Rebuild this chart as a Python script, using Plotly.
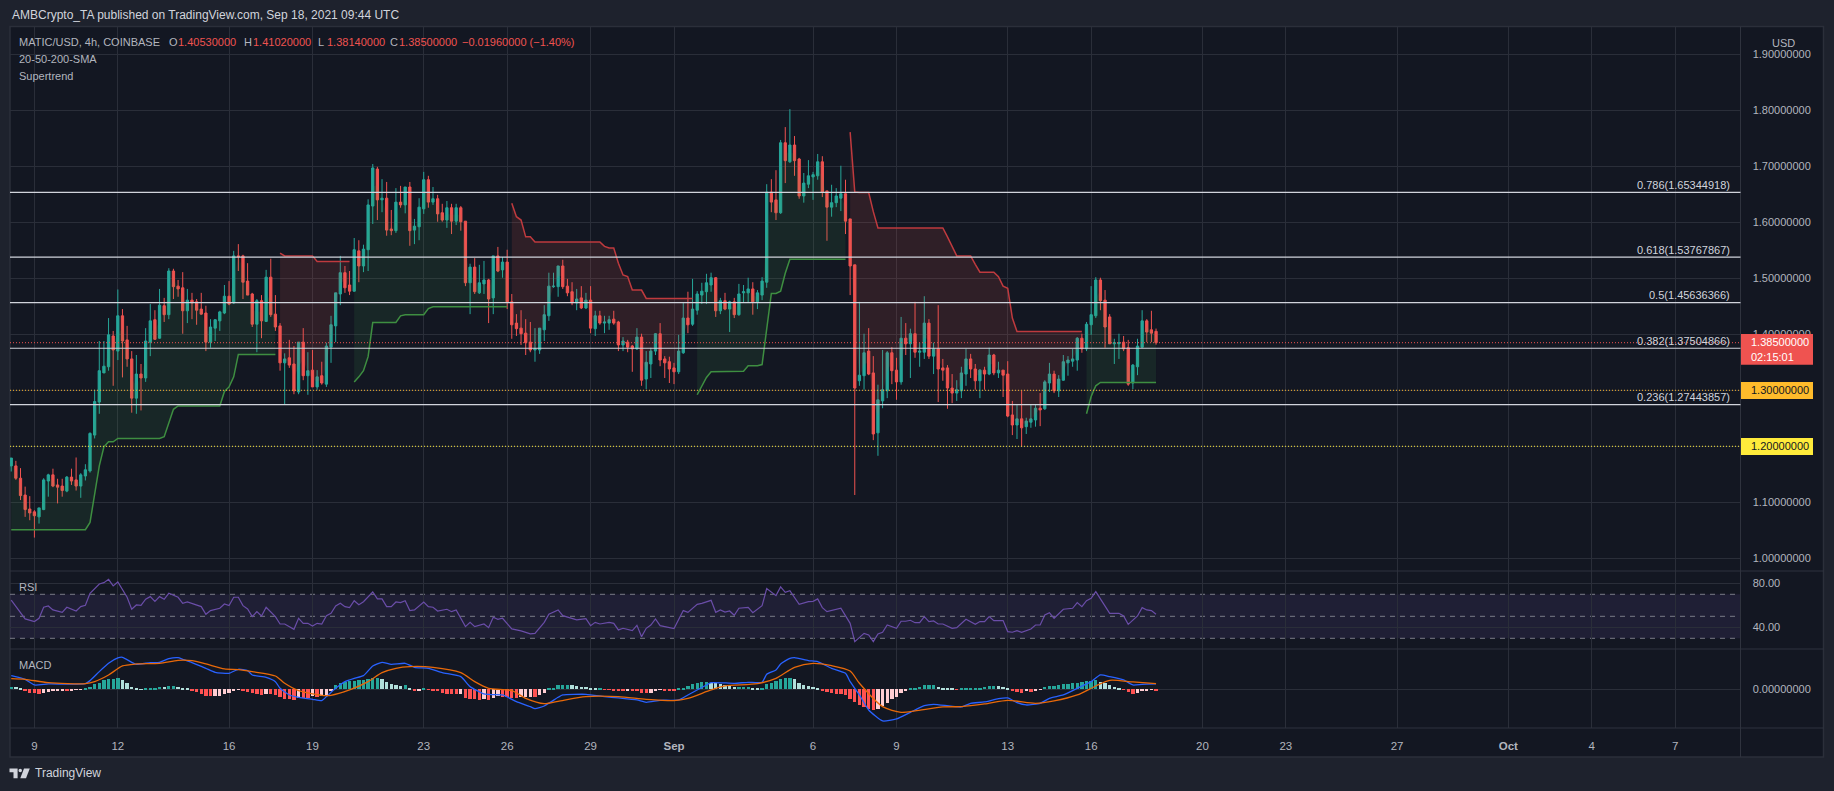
import pandas as pd
import plotly.graph_objects as go

W, H = 1834, 791

first_candle = "2021-08-08 04:00"
opens = [1.165,1.165,1.143,1.113,1.088,1.083,1.074,1.087,1.138,1.149,1.131,1.129,1.120,1.145,1.140,1.129,1.147,1.156,1.220,1.279,1.331,1.342,1.397,1.370,
1.433,1.390,1.356,1.286,1.329,1.322,1.386,1.426,1.393,1.451,1.435,1.513,1.486,1.483,1.442,1.461,1.458,1.445,1.438,1.386,1.411,1.424,1.438,1.468,
1.456,1.540,
1.540,1.495,1.472,1.418,1.460,1.423,1.502,1.436,1.415,1.349,1.358,1.347,1.297,1.386,1.326,1.336,1.306,1.326,1.311,1.377,1.415,1.472,1.510,1.488,1.477,1.549,1.522,1.551,1.629,1.695,1.640,1.643,1.588,1.585,1.636,1.631,1.663,1.586,1.592,1.624,
1.676,1.636,1.642,1.617,1.604,1.626,1.602,1.626,1.602,1.492,1.520,1.474,
1.490,1.497,1.465,1.540,1.515,1.529,
1.458,1.420,1.411,1.402,1.386,1.372,1.372,1.408,1.433,1.485,1.485,1.522,1.486,1.476,1.456,1.465,1.447,1.461,
1.410,1.433,1.420,1.420,1.427,1.422,1.381,1.386,1.379,1.374,1.395,1.320,1.347,1.370,1.401,1.356,1.351,1.340,
1.333,1.367,1.429,1.418,1.443,1.470,1.476,
1.488,1.501,1.442,1.460,1.445,1.458,1.435,1.474,1.474,1.481,1.458,1.470,1.493,1.654,1.640,1.617,1.742,1.708,1.738,1.713,1.647,1.668,1.681,1.683,1.708,1.656,1.627,1.635,1.643,1.651,1.606,1.524,1.317,1.326,1.370,1.331,1.224,1.281,1.299,1.367,1.336,
1.315,1.393,1.383,1.401,1.368,1.368,1.420,1.361,1.374,
1.340,1.340,1.304,1.295,1.299,1.329,1.356,1.338,1.317,1.336,1.329,1.363,1.331,1.336,1.329,
1.256,1.238,1.249,1.235,1.243,1.247,1.268,1.267,1.313,1.329,1.299,1.318,1.349,1.352,1.354,1.393,1.374,1.417,1.433,1.497,1.461,1.431,1.383,1.383,1.386,1.376,1.313,1.342,1.377,1.424,1.408,1.4053]
highs = [1.179,1.174,1.161,1.128,1.111,1.086,1.090,1.143,1.151,1.160,1.142,1.142,1.147,1.160,1.180,1.152,1.168,1.225,1.301,1.388,1.388,1.429,1.406,1.480,
1.445,1.415,1.370,1.363,1.347,1.411,1.454,1.443,1.481,1.465,1.518,1.517,1.497,1.511,1.481,1.474,1.463,1.474,1.451,1.427,1.427,1.442,1.488,1.495,
1.549,1.561,
1.542,1.527,1.474,1.463,1.470,1.515,1.535,1.470,1.420,1.366,1.390,1.379,1.386,1.411,1.368,1.372,1.336,1.351,1.385,1.433,1.474,1.540,1.522,1.513,1.572,1.568,1.560,1.641,1.704,1.699,1.677,1.672,1.622,1.661,1.665,1.663,1.672,1.606,1.643,1.690,
1.683,1.663,1.649,1.633,1.638,1.633,1.633,1.629,1.602,1.526,1.536,1.524,
1.531,1.499,1.540,1.556,1.538,1.551,
1.472,1.436,1.443,1.427,1.422,1.411,1.411,1.452,1.510,1.510,1.522,1.533,1.499,1.493,1.481,1.486,1.474,1.486,
1.442,1.442,1.433,1.433,1.442,1.424,1.395,1.390,1.381,1.411,1.401,1.370,1.376,1.402,1.420,1.361,1.360,1.349,
1.399,1.456,1.476,1.499,1.477,1.492,1.508,
1.510,1.502,1.465,1.474,1.460,1.465,1.490,1.488,1.501,1.493,1.479,1.502,1.668,1.677,1.693,1.747,1.770,1.802,1.754,1.715,1.688,1.711,1.690,1.722,1.718,1.656,1.667,1.661,1.701,1.676,1.606,1.524,1.458,1.401,1.411,1.361,1.310,1.372,1.370,1.377,1.358,
1.431,1.420,1.410,1.458,1.385,1.468,1.427,1.385,1.452,
1.356,1.345,1.329,1.318,1.342,1.374,1.365,1.347,1.338,1.342,1.376,1.365,1.351,1.336,1.352,
1.281,1.274,1.299,1.251,1.274,1.274,1.295,1.318,1.349,1.335,1.327,1.363,1.361,1.374,1.395,1.401,1.422,1.486,1.502,1.501,1.479,1.436,1.392,1.401,1.397,1.390,1.347,1.392,1.443,1.427,1.442,1.4102]
lows = [1.155,1.140,1.104,1.074,1.068,1.037,1.062,1.086,1.110,1.127,1.098,1.110,1.118,1.131,1.121,1.108,1.139,1.153,1.214,1.258,1.331,1.335,1.308,1.354,
1.323,1.342,1.260,1.258,1.264,1.315,1.361,1.390,1.392,1.422,1.427,1.463,1.467,1.401,1.420,1.427,1.417,1.435,1.370,1.376,1.388,1.406,1.436,1.452,
1.454,1.513,
1.463,1.470,1.413,1.368,1.393,1.422,1.431,1.406,1.335,1.274,1.340,1.293,1.293,1.318,1.292,1.306,1.301,1.310,1.306,1.349,1.386,1.452,1.474,1.470,1.476,1.493,1.511,1.513,1.597,1.604,1.618,1.576,1.577,1.581,1.626,1.616,1.558,1.561,1.568,1.615,
1.626,1.631,1.601,1.601,1.590,1.579,1.595,1.585,1.486,1.436,1.472,1.472,
1.472,1.420,1.436,1.511,1.501,1.445,
1.392,1.397,1.381,1.363,1.368,1.351,1.365,1.388,1.424,1.483,1.467,1.481,1.468,1.452,1.443,1.445,1.445,1.402,
1.397,1.417,1.402,1.408,1.417,1.370,1.370,1.368,1.333,1.372,1.308,1.302,1.322,1.363,1.343,1.322,1.313,1.311,
1.329,1.365,1.402,1.415,1.435,1.454,1.454,
1.476,1.431,1.436,1.443,1.404,1.429,1.433,1.456,1.456,1.435,1.445,1.461,1.483,1.618,1.604,1.615,1.670,1.706,1.683,1.642,1.635,1.661,1.640,1.676,1.645,1.567,1.610,1.627,1.620,1.579,1.470,1.113,1.308,1.301,1.327,1.211,1.183,1.268,1.286,1.311,1.283,
1.310,1.363,1.322,1.358,1.342,1.356,1.356,1.329,1.279,
1.317,1.267,1.277,1.281,1.286,1.308,1.322,1.301,1.286,1.301,1.327,1.327,1.322,1.288,1.252,
1.220,1.213,1.200,1.222,1.233,1.235,1.236,1.265,1.297,1.295,1.288,1.317,1.326,1.342,1.335,1.367,1.370,1.399,1.429,1.443,1.376,1.383,1.347,1.356,1.370,1.308,1.302,1.327,1.376,1.386,1.386,1.3814]
closes = [1.179,1.143,1.112,1.087,1.081,1.076,1.090,1.140,1.149,1.129,1.127,1.121,1.145,1.138,1.129,1.149,1.158,1.223,1.280,1.335,1.343,1.399,1.372,1.433,
1.388,1.356,1.286,1.329,1.322,1.388,1.424,1.391,1.452,1.435,1.513,1.485,1.481,1.442,1.461,1.456,1.443,1.436,1.386,1.413,1.426,1.440,1.468,1.454,
1.540,1.539,
1.493,1.470,1.418,1.460,1.424,1.502,1.435,1.413,1.349,1.356,1.345,1.299,1.386,1.326,1.335,1.306,1.324,1.313,1.379,1.417,1.474,1.510,1.483,1.477,1.551,1.522,1.552,1.631,1.697,1.640,1.643,1.586,1.585,1.636,1.631,1.663,1.585,1.593,1.627,1.676,
1.636,1.642,1.615,1.604,1.626,1.602,1.626,1.601,1.492,1.520,1.476,1.492,
1.497,1.463,1.540,1.513,1.529,1.458,
1.417,1.410,1.401,1.385,1.372,1.374,1.411,1.435,1.486,1.486,1.522,1.485,1.474,1.456,1.463,1.447,1.461,1.411,
1.433,1.420,1.422,1.426,1.420,1.381,1.388,1.377,1.374,1.395,1.318,1.350,1.370,1.401,1.354,1.349,1.338,1.333,
1.370,1.429,1.417,1.445,1.472,1.477,1.492,
1.501,1.442,1.460,1.445,1.458,1.435,1.472,1.476,1.481,1.458,1.474,1.495,1.654,1.636,1.617,1.742,1.710,1.738,1.710,1.647,1.670,1.683,1.685,1.708,1.654,1.627,1.635,1.647,1.651,1.602,1.522,1.304,1.327,1.367,1.329,1.222,1.283,1.301,1.367,1.335,1.315,
1.393,1.383,1.401,1.368,1.370,1.420,1.361,1.374,1.338,
1.336,1.304,1.295,1.301,1.331,1.356,1.338,1.317,1.336,1.329,1.363,1.331,1.336,1.327,1.254,
1.238,1.249,1.233,1.245,1.249,1.268,1.265,1.315,1.329,1.299,1.320,1.351,1.354,1.356,1.393,1.374,1.418,1.435,1.497,1.460,1.413,1.383,1.385,1.385,1.374,1.311,1.345,1.379,1.424,1.404,1.402,1.385]

# Supertrend runs: (first candle number, colour key, values)
st_green_1 = [1.051]*17 + [1.064,1.115,1.165,1.199,1.208,1.208] + [1.214]*10 + [1.217,1.241,1.266] + [1.272]*10 + [1.298,1.306,1.324] + [1.364]*9
st_red_1 = [1.545] + [1.540]*7 + [1.530]*8
st_green_2 = [1.315,1.324,1.335,1.360] + [1.421]*6 + [1.433] + [1.435]*5 + [1.446] + [1.449]*17
st_red_2 = [1.634,1.610,1.604,1.574,1.574] + [1.565]*15 + [1.557,1.554,1.554,1.527,1.506,1.503] + [1.479]*3 + [1.464]*11
st_green_3 = [1.292,1.307,1.323] + [1.333]*7 + [1.334] + [1.344]*3 + [1.346,1.408,1.473,1.473,1.477,1.509] + [1.534]*13
st_red_3 = [1.761,1.654] + [1.653]*3 + [1.619] + [1.590]*15 + [1.574,1.557] + [1.540]*4 + [1.525] + [1.511]*4 + [1.503,1.486,1.482,1.429] + [1.405]*15
st_green_4 = [1.258,1.289,1.308] + [1.314]*13
st_runs = [(1,"up",st_green_1),(59,"down",st_red_1),(75,"up",st_green_2),(109,"down",st_red_2),
           (149,"up",st_green_3),(182,"down",st_red_3),(233,"up",st_green_4)]

rsi_candle = [1,4,6,7,8,9,10,12,13,15,16,17,18,20,21,22,23,24,26,27,28,29,30,31,32,33,34,35,37,38,39,42,43,44,46,47,48,49,50,51,52,53,54,55,56,58,59,60,62,63,64,65,66,67,68,69,70,71,72,73,74,75,76,77,79,80,81,82,83,84,85,86,87,88,90,91,92,93,95,96,97,99,100,101,103,104,105,106,107,109,111,113,114,116,117,119,120,122,123,125,126,127,128,130,131,132,
133,135,136,137,138,139,140,141,143,144,146,147,149,150,152,153,154,155,156,157,158,160,161,163,164,166,167,168,169,171,173,174,175,176,177,180,182,183,185,186,187,188,189,190,192,193,194,195,196,197,198,199,200,201,202,204,205,207,209,210,211,212,213,215,216,217,218,219,221,222,223,224,225,226,228,230,231,232,233,234,235,238,240,241,242,244,245,246,247,248]
rsi_value = [64.8,47.6,45.2,48.2,58.2,59.4,55.8,53.6,58.2,54.8,58.8,60,70.9,79.4,80.6,83.6,77.6,81.2,67.3,56.4,60.3,60,65.5,67.9,63.6,67.9,65.5,70.9,67.3,61.8,63,58.8,51.8,55.2,57.3,61.2,59.7,67.3,67.3,59.7,56.7,49.7,54.2,50.3,58.2,49.7,43,43,38.2,48.2,43.6,43.6,41.2,43.6,43,50.6,52.7,59.4,61.8,58.8,57.9,64.2,60.6,63.3,72.1,65.8,65.8,58.8,58.8,63,62.4,64.2,55.2,55.8,63,58.8,58.2,54.8,56.4,54.2,55.8,40.6,44.5,40.6,43,39.7,49.1,47.3,48.2,38.5,36.7,34,34.5,44.5,51.8,55.8,50.6,48.2,46.7,47.9,41.5,44.5,43,44.5,43.6,37.6,
39.1,37,41.8,31.5,39.1,42.1,47.6,41.5,39.7,38.8,55.2,53.6,60.9,61.8,64.5,53.6,55.8,53.9,54.8,50.9,57.3,58.2,53.3,59.7,75.2,68.8,76.7,71.8,73.3,60.9,63.3,63.6,65.8,57.9,54.2,57.3,43.6,27,34.5,33,27,33.9,35.5,42.1,39.1,45.5,45.5,46.4,44.2,44.2,49.7,45.2,45.8,43,43,39.1,39.7,47.3,42.7,45.2,45.2,49.7,46.1,46.1,36.1,35.5,37,35.5,38.5,42.1,42.1,51.2,53.3,48.2,56.4,57.3,62.4,58.8,64.2,66.4,72.4,52.7,52.7,50.3,42.7,50.3,57.9,55.8,55.2,51.8]

macd_candle = [1,4,6,9,17,18,20,22,24,25,27,28,31,33,35,37,38,40,43,45,48,50,52,53,56,58,59,61,63,66,68,69,71,73,75,77,79,81,83,86,88,91,94,98,100,103,105,107,110,113,114,116,119,120,125,129,132,
136,138,141,145,147,151,152,157,160,163,164,166,167,169,170,173,175,178,181,182,184,186,189,192,195,198,200,206,208,211,214,216,218,220,223,225,228,231,234,236,238,241,243,245,248]
macd_value = [0.0205,0.015,0.0065,0.008,0.0085,0.013,0.0265,0.039,0.047,0.048,0.0405,0.0375,0.04,0.0405,0.046,0.0475,0.045,0.04,0.0315,0.0255,0.024,0.03,0.028,0.0215,0.018,0.0115,0.0015,-0.0085,-0.012,-0.015,-0.017,-0.011,0.0015,0.0115,0.0165,0.0205,0.035,0.0405,0.0375,0.039,0.033,0.0315,0.025,0.019,0.004,-0.007,-0.008,-0.0085,-0.0185,-0.026,-0.029,-0.025,-0.012,-0.0085,-0.0075,-0.011,-0.013,
-0.016,-0.0195,-0.0165,-0.016,-0.0085,0.0065,0.01,0.009,0.0105,0.0105,0.0225,0.029,0.038,0.0465,0.0475,0.043,0.0415,0.0315,0.024,0.0115,-0.0085,-0.031,-0.0475,-0.0445,-0.0345,-0.0245,-0.0225,-0.0265,-0.021,-0.019,-0.014,-0.013,-0.02,-0.0235,-0.021,-0.0135,-0.0085,0.0015,0.0115,0.0215,0.019,0.014,0.0065,0.0075,0.008]
signal_candle = [1,4,9,17,19,22,25,28,33,37,40,43,47,50,53,58,60,63,68,70,74,78,81,84,87,92,98,101,104,109,112,116,119,125,132,
138,144,147,152,155,162,166,170,174,178,182,184,189,193,196,202,206,211,216,222,226,231,235,238,243,248]
signal_value = [0.016,0.015,0.01,0.0085,0.0115,0.0215,0.035,0.038,0.039,0.0435,0.043,0.038,0.0305,0.0295,0.0265,0.02,0.009,-0.002,-0.009,-0.009,-0.001,0.0115,0.025,0.0315,0.034,0.033,0.025,0.0115,0.0015,-0.002,-0.0135,-0.0215,-0.018,-0.011,-0.011,
-0.015,-0.017,-0.0135,-0.001,0.005,0.0085,0.0165,0.033,0.039,0.0355,0.0275,0.009,-0.026,-0.0345,-0.0325,-0.0265,-0.026,-0.022,-0.0165,-0.021,-0.0175,-0.0085,0.005,0.0135,0.011,0.0085]
# histogram, in units of 0.0001
macd_hist = [40,30,10,-30,-50,-60,-65,-50,-40,-30,-20,-15,-20,-15,-10,-5,10,40,80,100,135,155,155,165,140,100,40,15,3,5,10,20,35,30,50,50,30,15,5,
-15,-35,-70,-95,-105,-100,-95,-70,-60,-15,-5,-15,-40,-60,-75,-85,-70,-75,-85,-120,-140,-140,-155,-125,-125,-125,-100,-110,-100,-85,-25,
60,90,110,125,130,140,140,155,165,175,150,110,85,60,50,60,15,
-25,-20,5,-10,-15,-25,-50,-65,-70,-70,-65,-130,-150,-150,-160,-150,-160,-125,-100,-110,-110,-125,-125,-120,-115,-110,-110,-90,-60,
10,20,60,65,65,60,50,35,30,15,5,5,-5,-5,-15,-15,
-30,-25,-30,-30,-50,-60,-50,-15,-10,-15,-15,-15,5,25,50,75,100,110,110,100,90,80,60,50,40,40,40,40,20,15,20,80,100,125,150,165,165,150,100,65,45,30,15,
-15,-35,-60,-70,-70,-90,-140,-190,-240,-265,-290,-310,-290,-250,-200,-150,-110,-60,-30,
10,20,40,60,60,60,40,25,15,5,-5,10,20,25,25,25,30,45,50,45,30,5,-20,-35,-50,-25,-35,-20,-10,
35,45,50,70,85,85,90,100,110,120,130,140,110,90,60,35,15,-10,-40,-65,-50,-20,-15,-5,-20]

fib_levels = [0.786, 0.618, 0.5, 0.382, 0.236]
fib_prices = [1.65344918, 1.53767867, 1.45636366, 1.37504866, 1.27443857]
fib_texts = ["0.786(1.65344918)", "0.618(1.53767867)", "0.5(1.45636366)", "0.382(1.37504866)", "0.236(1.27443857)"]
support_levels = [1.3, 1.2]
last_close = 1.385
price_ticks = [1.0,1.1,1.2,1.3,1.4,1.5,1.6,1.7,1.8,1.9]
price_ticktext = ["1.00000000","1.10000000","1.20000000","1.30000000","1.40000000","1.50000000","1.60000000","1.70000000","1.80000000","1.90000000"]
date_ticks = ["2021-08-09","2021-08-12","2021-08-16","2021-08-19","2021-08-23","2021-08-26","2021-08-29","2021-09-01","2021-09-06","2021-09-09","2021-09-13","2021-09-16","2021-09-20","2021-09-23","2021-09-27","2021-10-01","2021-10-04","2021-10-07"]
date_labels = ["9","12","16","19","23","26","29","<b>Sep</b>","6","9","13","16","20","23","27","<b>Oct</b>","4","7"]

assert all(len(a) == 248 for a in (opens, highs, lows, closes, macd_hist)), [len(a) for a in (opens, highs, lows, closes, macd_hist)]
assert len(rsi_candle) == len(rsi_value) and len(macd_candle) == len(macd_value) and len(signal_candle) == len(signal_value)

BG, OUTER, GRID, SEP = "#131722", "#1e222d", "#2a2e39", "#2f333e"
TEAL, RED = "#26a69a", "#ef5350"
TXT, TXT2 = "#b2b5be", "#d1d4dc"
FONT = "Liberation Sans"

dates = pd.date_range(first_candle, periods=len(opens), freq="4h")
def at(nums):
    return [dates[n - 1] for n in nums]
mids = [(o + c) / 2 for o, c in zip(opens, closes)]

fig = go.Figure()
style = {"up": ("#3e8e41", "rgba(76,175,80,0.11)"), "down": ("#bf3a3e", "rgba(239,83,80,0.13)")}
for start, key, vals in st_runs:
    xs = dates[start - 1:start - 1 + len(vals)]
    line_c, fill_c = style[key]
    fig.add_trace(go.Scatter(x=xs, y=mids[start - 1:start - 1 + len(vals)], mode="lines", line=dict(width=0), hoverinfo="skip", showlegend=False))
    fig.add_trace(go.Scatter(x=xs, y=vals, mode="lines", fill="tonexty", fillcolor=fill_c, line=dict(color=line_c, width=1.5), showlegend=False))

fig.add_trace(go.Candlestick(x=dates, open=opens, high=highs, low=lows, close=closes, showlegend=False,
    increasing=dict(line=dict(color=TEAL, width=1), fillcolor=TEAL),
    decreasing=dict(line=dict(color=RED, width=1), fillcolor=RED)))

fig.add_trace(go.Scatter(x=at(rsi_candle), y=rsi_value, mode="lines", line=dict(color="#6a4da8", width=1.2), xaxis="x2", yaxis="y2", showlegend=False))

hist_colors = []
for i, v in enumerate(macd_hist):
    prev = macd_hist[i - 1] if i else v
    if v >= 0:
        hist_colors.append(TEAL if v >= prev else "#b2dfdb")
    else:
        hist_colors.append("#ff5252" if v <= prev else "#ffcdd2")
fig.add_trace(go.Bar(x=dates, y=[v * 1e-4 for v in macd_hist], marker=dict(color=hist_colors, line=dict(width=0)), width=4 * 3600 * 1000 * 0.72, xaxis="x3", yaxis="y3", showlegend=False))
fig.add_trace(go.Scatter(x=at(macd_candle), y=macd_value, mode="lines", line=dict(color="#2962ff", width=1.3, shape="spline", smoothing=0.5), xaxis="x3", yaxis="y3", showlegend=False))
fig.add_trace(go.Scatter(x=at(signal_candle), y=signal_value, mode="lines", line=dict(color="#e8690a", width=1.3, shape="spline", smoothing=0.7), xaxis="x3", yaxis="y3", showlegend=False))

def px(x): return x / W
def py(y): return 1 - y / H

x0 = pd.Timestamp("2021-08-09") - pd.Timedelta(days=0.8774)
x1 = pd.Timestamp("2021-08-09") + pd.Timedelta(days=61.35)
xcommon = dict(range=[x0, x1], type="date", tickvals=date_ticks, ticktext=date_labels, gridcolor=GRID, gridwidth=1, showgrid=True, zeroline=False, showline=False)
L, R = px(10), px(1740.5)
fig.update_layout(
    width=W, height=H, autosize=False, margin=dict(l=0, r=0, t=0, b=0),
    paper_bgcolor=OUTER, plot_bgcolor=BG, barmode="overlay", bargap=0, boxgap=0.3,
    hovermode=False, dragmode=False,
    font=dict(family=FONT, size=11, color=TXT),
    xaxis=dict(domain=[L, R], anchor="y", showticklabels=False, ticks="", rangeslider=dict(visible=False), **xcommon),
    xaxis2=dict(domain=[L, R], anchor="y2", matches="x", showticklabels=False, ticks="", **xcommon),
    xaxis3=dict(domain=[L, R], anchor="y3", matches="x", ticks="outside", ticklen=7, tickcolor="rgba(0,0,0,0)", tickfont=dict(family=FONT, size=11.5, color=TXT), tickangle=0, **xcommon),
    yaxis=dict(domain=[py(571), py(26.5)], range=[0.97732, 1.9496], side="right", tickvals=price_ticks, ticktext=price_ticktext, gridcolor=GRID, zeroline=False, ticks="outside", ticklen=9, tickcolor="rgba(0,0,0,0)", tickfont=dict(family=FONT, size=11, color=TXT)),
    yaxis2=dict(domain=[py(649), py(571)], range=[20.27, 91.18], side="right", tickvals=[40, 80], ticktext=["40.00", "80.00"], gridcolor=GRID, zeroline=False, ticks="outside", ticklen=9, tickcolor="rgba(0,0,0,0)", tickfont=dict(family=FONT, size=11, color=TXT)),
    yaxis3=dict(domain=[py(728), py(649)], range=[-0.05805, 0.06045], side="right", tickvals=[0], ticktext=["0.00000000"], gridcolor=GRID, zeroline=False, ticks="outside", ticklen=9, tickcolor="rgba(0,0,0,0)", tickfont=dict(family=FONT, size=11, color=TXT)),
)

shapes = []
def rect(x_a, y_a, x_b, y_b, fill, line=None, layer="below", lw=1):
    shapes.append(dict(type="rect", xref="paper", yref="paper", x0=px(x_a), x1=px(x_b), y0=py(y_b), y1=py(y_a), fillcolor=fill,
                       line=dict(color=line or fill, width=lw if line else 0), layer=layer))
def hline_px(y_v, x_a=10, x_b=1824):
    shapes.append(dict(type="line", xref="paper", yref="paper", x0=px(x_a), x1=px(x_b), y0=py(y_v), y1=py(y_v), line=dict(color=SEP, width=1), layer="above"))
rect(10, 26.5, 1823.5, 757, BG, "#2b2f3a", lw=1.5)
hline_px(571); hline_px(649); hline_px(728)
shapes.append(dict(type="line", xref="paper", yref="paper", x0=px(1740.5), x1=px(1740.5), y0=py(757), y1=py(26.5), line=dict(color=SEP, width=1), layer="above"))

# RSI band and levels
shapes.append(dict(type="rect", xref="x2 domain", yref="y2", x0=0, x1=1, y0=30, y1=70, fillcolor="rgba(126,87,194,0.12)", line=dict(width=0), layer="below"))
for lv in (70, 50, 30):
    shapes.append(dict(type="line", xref="x2 domain", yref="y2", x0=0, x1=1, y0=lv, y1=lv, line=dict(color="#787b86", width=1, dash="5px,5px"), layer="below"))
# Fib and price levels
for p in fib_prices:
    shapes.append(dict(type="line", xref="x domain", yref="y", x0=0, x1=1, y0=p, y1=p, line=dict(color="#d1d4dc", width=1.2), layer="above"))
for p, c in ((last_close, RED), (support_levels[0], "#ffb52b"), (support_levels[1], "#ffeb3b")):
    shapes.append(dict(type="line", xref="x domain", yref="y", x0=0, x1=1, y0=p, y1=p, line=dict(color=c, width=1, dash="1px,2px"), layer="above"))
# Price badges
rect(1741, 334, 1813, 364.7, RED, layer="above")
rect(1741, 382, 1813, 399, "#ffbb2b", layer="above")
rect(1741, 438, 1813, 455, "#ffeb3b", layer="above")
# Logo
def poly(pts):
    return "M" + " L".join(f"{px(a):.6f},{py(b):.6f}" for a, b in pts) + " Z"
logo = "#d1d4dc"
shapes.append(dict(type="path", xref="paper", yref="paper", path=poly([(9.5,768.5),(17.6,768.5),(17.6,778.3),(13.5,778.3),(13.5,772.2),(9.5,772.2)]), fillcolor=logo, line=dict(width=0), layer="above"))
shapes.append(dict(type="path", xref="paper", yref="paper", path=poly([(24,768.5),(29.8,768.5),(26,778.3),(20.3,778.3)]), fillcolor=logo, line=dict(width=0), layer="above"))
shapes.append(dict(type="circle", xref="paper", yref="paper", x0=px(18.5), x1=px(22), y0=py(772.2), y1=py(768.7), fillcolor=logo, line=dict(width=0), layer="above"))
fig.update_layout(shapes=shapes)

notes = []
def T(x_v, y_v, text, color=TXT, size=11, anchor="left"):
    notes.append(dict(xref="paper", yref="paper", x=px(x_v), y=py(y_v), text=text, showarrow=False, xanchor=anchor, yanchor="middle",
                      font=dict(family=FONT, size=size, color=color), align="left", borderpad=0))
T(10.5, 15, "AMBCrypto_TA published on TradingView.com, Sep 18, 2021 09:44 UTC", "#d1d4dc", 12)
T(17.5, 42, "MATIC/USD, 4h, COINBASE", TXT, 11)
for xl, lab, val in ((168.4, "O", "1.40530000"), (243, "H", "1.41020000"), (317, "L", "1.38140000"), (388.7, "C", "1.38500000")):
    T(xl, 42, lab, TXT, 11)
    T(xl + 9, 42, val, RED, 11)
T(461.4, 42, "−0.01960000 (−1.40%)", RED, 11)
T(17.5, 59, "20-50-200-SMA", TXT, 11)
T(17.5, 76, "Supertrend", TXT, 11)
T(17.5, 587, "RSI", TXT, 11)
T(17.5, 665, "MACD", TXT, 11)
T(1783, 43, "USD", TXT, 11, "center")
T(1749.6, 342, "1.38500000", "#ffffff", 11)
T(1749.6, 356.7, "02:15:01", "#ffffff", 11)
T(1749.6, 390.3, "1.30000000", "#131722", 11)
T(1749.6, 446.3, "1.20000000", "#131722", 11)
T(33.5, 773, "TradingView", "#d1d4dc", 12)
for p, txt in zip(fib_prices, fib_texts):
    notes.append(dict(xref="paper", yref="y", x=px(1731), y=p, yshift=7.5, text=txt, showarrow=False, xanchor="right", yanchor="middle",
                      font=dict(family=FONT, size=11, color="#d1d4dc"), borderpad=0))
fig.update_layout(annotations=notes)

fig.write_html("out.html", config=dict(displayModeBar=False),
               post_script="document.body.style.margin='0';document.documentElement.style.overflow='hidden';")
